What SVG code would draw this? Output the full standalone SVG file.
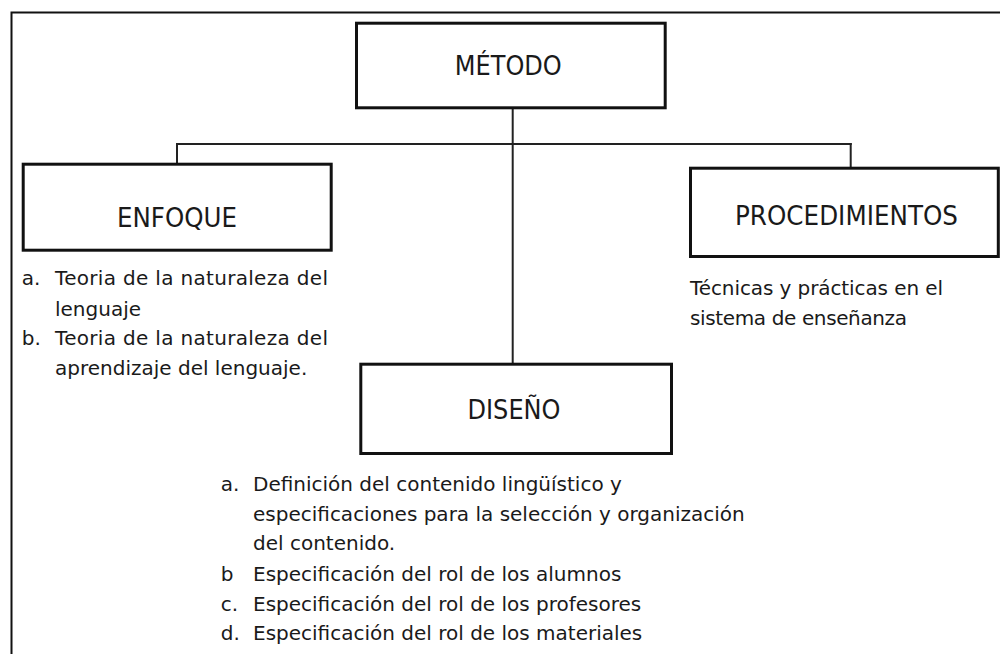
<svg xmlns="http://www.w3.org/2000/svg" width="1000" height="654" viewBox="0 0 1000 654">
  <style>
    .box { fill: #ffffff; stroke: #111111; stroke-width: 3; }
    .frame { fill: none; stroke: #111111; stroke-width: 2; }
    .conn { fill: none; stroke: #222222; stroke-width: 2; }
    .head { font-family: "DejaVu Sans", "Liberation Sans", sans-serif; font-size: 26px; fill: #1a1a1a; text-anchor: middle; }
    .body { font-family: "DejaVu Sans", "Liberation Sans", sans-serif; font-size: 20px; fill: #1a1a1a; }
  </style>
  <rect x="0" y="0" width="1000" height="654" fill="#ffffff"/>
  <rect class="frame" x="11.5" y="12.5" width="1000" height="660"/>

  <g id="connectors">
    <line class="conn" x1="512.7" y1="108" x2="512.7" y2="364"/>
    <line class="conn" x1="176" y1="144" x2="851.7" y2="144"/>
    <line class="conn" x1="177" y1="143" x2="177" y2="164"/>
    <line class="conn" x1="850.7" y1="143" x2="850.7" y2="168"/>
  </g>

  <g id="metodo">
    <rect class="box" x="356.5" y="23.2" width="308.7" height="84.6"/>
    <text class="head" x="508.3" y="75" textLength="107" lengthAdjust="spacingAndGlyphs">MÉTODO</text>
  </g>

  <g id="enfoque">
    <rect class="box" x="23.2" y="164.2" width="308" height="86"/>
    <text class="head" x="177" y="226.7" textLength="120" lengthAdjust="spacingAndGlyphs">ENFOQUE</text>
    <text class="body" x="21.7" y="285">a.</text>
    <text class="body" x="55" y="285" textLength="273">Teoria de la naturaleza del</text>
    <text class="body" x="55" y="315.7">lenguaje</text>
    <text class="body" x="21.7" y="345">b.</text>
    <text class="body" x="55" y="345" textLength="273">Teoria de la naturaleza del</text>
    <text class="body" x="55" y="375">aprendizaje del lenguaje.</text>
  </g>

  <g id="procedimientos">
    <rect class="box" x="690.5" y="168.2" width="307.8" height="88.3"/>
    <text class="head" x="846.5" y="225" textLength="223" lengthAdjust="spacingAndGlyphs">PROCEDIMIENTOS</text>
    <text class="body" x="690" y="295" textLength="253">Técnicas y prácticas en el</text>
    <text class="body" x="690" y="325" textLength="217">sistema de enseñanza</text>
  </g>

  <g id="diseno">
    <rect class="box" x="360.8" y="364.2" width="310.7" height="89.3"/>
    <text class="head" x="514" y="419" textLength="93" lengthAdjust="spacingAndGlyphs">DISEÑO</text>
    <text class="body" x="220.7" y="490.7">a.</text>
    <text class="body" x="253" y="490.7">Definición del contenido lingüístico y</text>
    <text class="body" x="253" y="520.7">especificaciones para la selección y organización</text>
    <text class="body" x="253" y="550">del contenido.</text>
    <text class="body" x="220.7" y="581">b</text>
    <text class="body" x="253" y="581">Especificación del rol de los alumnos</text>
    <text class="body" x="220.7" y="610.7">c.</text>
    <text class="body" x="253" y="610.7">Especificación del rol de los profesores</text>
    <text class="body" x="220.7" y="640">d.</text>
    <text class="body" x="253" y="640">Especificación del rol de los materiales</text>
  </g>
</svg>
